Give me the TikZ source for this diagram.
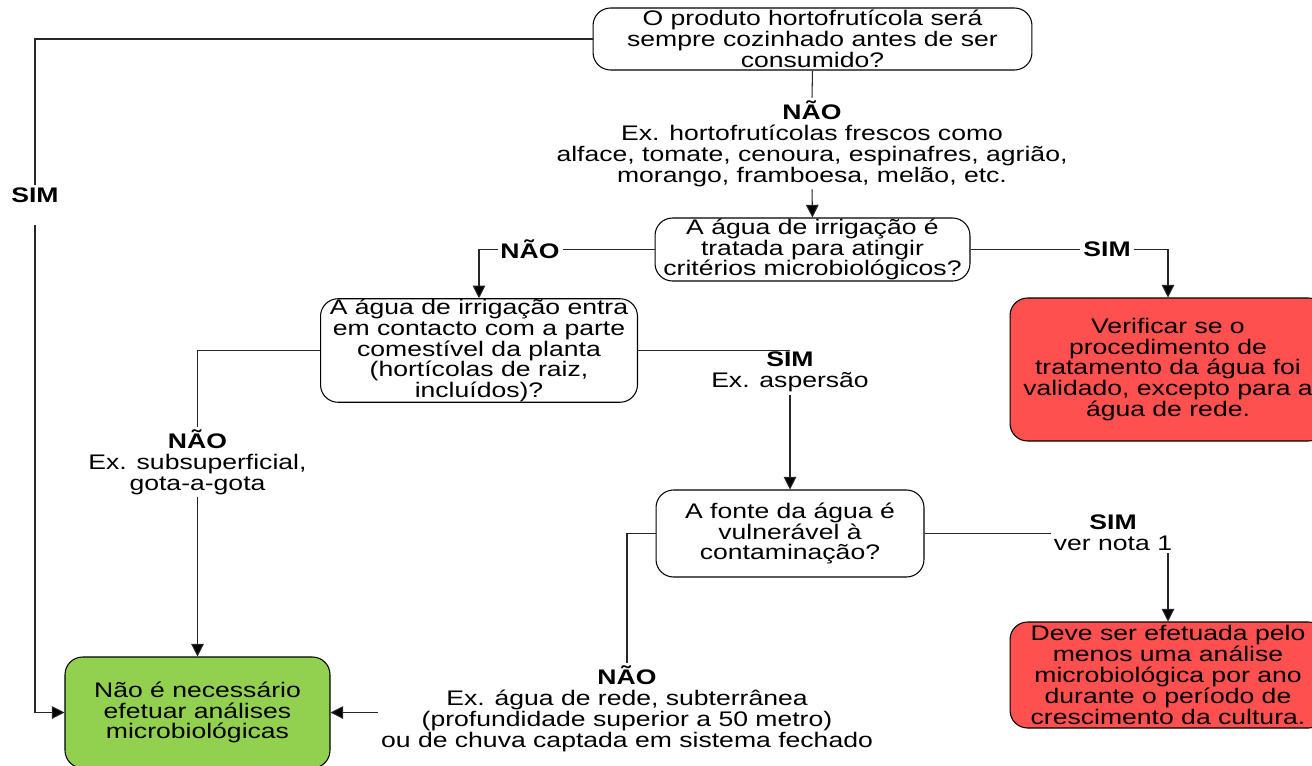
\documentclass[tikz,border=0pt]{standalone}
\usepackage{fontspec}
\setmainfont{Liberation Sans}[FakeStretch=1.26]
\usepackage{xcolor}
\usepackage{tikz}
\usetikzlibrary{arrows.meta, positioning, calc}
\definecolor{verde}{RGB}{146,208,80}
\definecolor{vermelho}{RGB}{255,80,80}

\begin{document}
\begin{tikzpicture}[x=0.02cm, y=-0.02cm,
      font=\fontsize{12}{11.9}\selectfont,
      caixa/.style={draw, rounded corners=0.35cm, align=center, inner sep=0pt, line width=0.6pt},
      rotulo/.style={align=center, inner sep=1.5pt},
      linha/.style={draw=black!85, line width=0.6pt},
      seta/.style={linha, -{Triangle[width=7.2pt,length=7.2pt,fill=black]}}]
      \useasboundingbox (0,0) rectangle (1312,765);

      % perguntas
      \node[caixa, minimum width=8.78cm, minimum height=1.24cm] (cozinhado) at (812.5,39) {O produto hortofrutícola será\\sempre cozinhado antes de ser\\consumido?};
      \node[caixa, minimum width=6.3cm, minimum height=1.26cm] (tratada) at (812.5,249.5) {A água de irrigação é\\tratada para atingir\\critérios microbiológicos?};
      \node[caixa, minimum width=6.34cm, minimum height=2.02cm] (contacto) at (479,350.5) {A água de irrigação entra\\em contacto com a parte\\comestível da planta\\(hortícolas de raiz,\\incluídos)?};
      \node[caixa, minimum width=5.36cm, minimum height=1.74cm] (fonte) at (790,533.5) {A fonte da água é\\vulnerável à\\contaminação?};

      % resultados
      \node[caixa, fill=verde, minimum width=5.3cm, minimum height=2.22cm] (nada) at (197.5,712.5) {Não é necessário\\efetuar análises\\microbiológicas};
      \node[caixa, fill=vermelho, minimum width=6.32cm, minimum height=2.86cm] (validar) at (1168,369.5) {Verificar se o\\procedimento de\\tratamento da água foi\\validado, excepto para a\\água de rede.};
      \node[caixa, fill=vermelho, minimum width=6.32cm, minimum height=2.12cm] (analise) at (1168,675) {Deve ser efetuada pelo\\menos uma análise\\microbiológica por ano\\durante o período de\\crescimento da cultura.};

      % rotulos
      \node[rotulo] (sim1) at (35,195) {\bfseries SIM};
      \node[rotulo] (nao1) at (812,143.5) {\bfseries NÃO\\Ex. hortofrutícolas frescos como\\alface, tomate, cenoura, espinafres, agrião,\\morango, framboesa, melão, etc.};
      \node[rotulo] (nao2) at (530,249.5) {\bfseries NÃO};
      \node[rotulo] (sim2) at (1107,249.5) {\bfseries SIM};
      \node[rotulo] (nao3) at (197.5,462) {\bfseries NÃO\\Ex. subsuperficial,\\gota-a-gota};
      \node[rotulo] (sim3) at (790,372) {\bfseries SIM\\Ex. aspersão};
      \node[rotulo] (nao4) at (627,709) {\bfseries NÃO\\Ex. água de rede, subterrânea\\(profundidade superior a 50 metro)\\ou de chuva captada em sistema fechado};
      \node[rotulo] (sim4) at (1113,532.5) {\bfseries SIM\\ver nota 1};

      % ligacoes
      \draw[linha] (cozinhado.west) -| (sim1.north);
      \draw[seta] ([yshift=-0.4cm]sim1.south) |- (nada.west);
      \draw[linha] (cozinhado.south) -- (nao1.north);
      \draw[seta] (nao1.south) -- (tratada.north);
      \draw[linha] (tratada.west) -- (nao2.east);
      \draw[seta] (nao2.west) -| (contacto.north);
      \draw[linha] (tratada.east) -- (sim2.west);
      \draw[seta] (sim2.east) -| (validar.north);
      \draw[linha] (contacto.west) -| (nao3.north);
      \draw[seta] (nao3.south) -- (nada.north);
      \draw[linha] (contacto.east) -- (contacto.east -| sim3.north);
      \draw[seta] (sim3.south) -- (fonte.north);
      \draw[linha] (fonte.west) -| (nao4.north);
      \draw[seta] (nao4.west |- nada.east) -- (nada.east);
      \draw[linha] (fonte.east) -- (fonte.east -| sim4.west);
      \draw[seta] (sim4.south -| analise.north) -- (analise.north);
\end{tikzpicture}
\end{document}
